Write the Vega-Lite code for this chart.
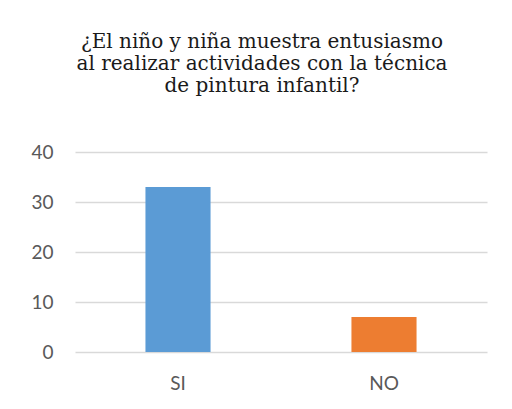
{
  "$schema": "https://vega.github.io/schema/vega-lite/v6.json",
  "autosize": {"type": "none"},
  "width": 412,
  "height": 200,
  "padding": {"left": 75, "top": 152, "right": 25, "bottom": 57},
  "background": "white",
  "title": {
    "text": ["¿El niño y niña muestra entusiasmo", "al realizar actividades con la técnica", "de pintura infantil?"],
    "anchor": "middle",
    "frame": "group",
    "dx": -19,
    "offset": 47,
    "font": "DejaVu Serif",
    "fontSize": 20,
    "fontWeight": "normal",
    "color": "#1a1a1a",
    "lineHeight": 22,
    "baseline": "top"
  },
  "data": {
    "values": [
      {"respuesta": "SI", "valor": 33},
      {"respuesta": "NO", "valor": 7}
    ]
  },
  "mark": {"type": "bar"},
  "encoding": {
    "x": {
      "field": "respuesta",
      "type": "nominal",
      "sort": ["SI", "NO"],
      "scale": {"paddingInner": 0.684, "paddingOuter": 0.342},
      "axis": {
        "title": null,
        "labelAngle": 0,
        "labelFont": "Lato",
        "labelFontSize": 19,
        "labelColor": "#595959",
        "labelPadding": 22,
        "ticks": false,
        "domain": false
      }
    },
    "y": {
      "field": "valor",
      "type": "quantitative",
      "scale": {"domain": [0, 40]},
      "axis": {
        "title": null,
        "values": [0, 10, 20, 30, 40],
        "labelFont": "Lato",
        "labelFontSize": 19,
        "labelColor": "#595959",
        "labelPadding": 22,
        "ticks": false,
        "domain": false,
        "gridColor": "#d9d9d9",
        "gridWidth": 1.5
      }
    },
    "color": {
      "field": "respuesta",
      "type": "nominal",
      "scale": {"domain": ["SI", "NO"], "range": ["#5b9bd5", "#ed7d31"]},
      "legend": null
    }
  },
  "config": {
    "view": {"stroke": null}
  }
}
